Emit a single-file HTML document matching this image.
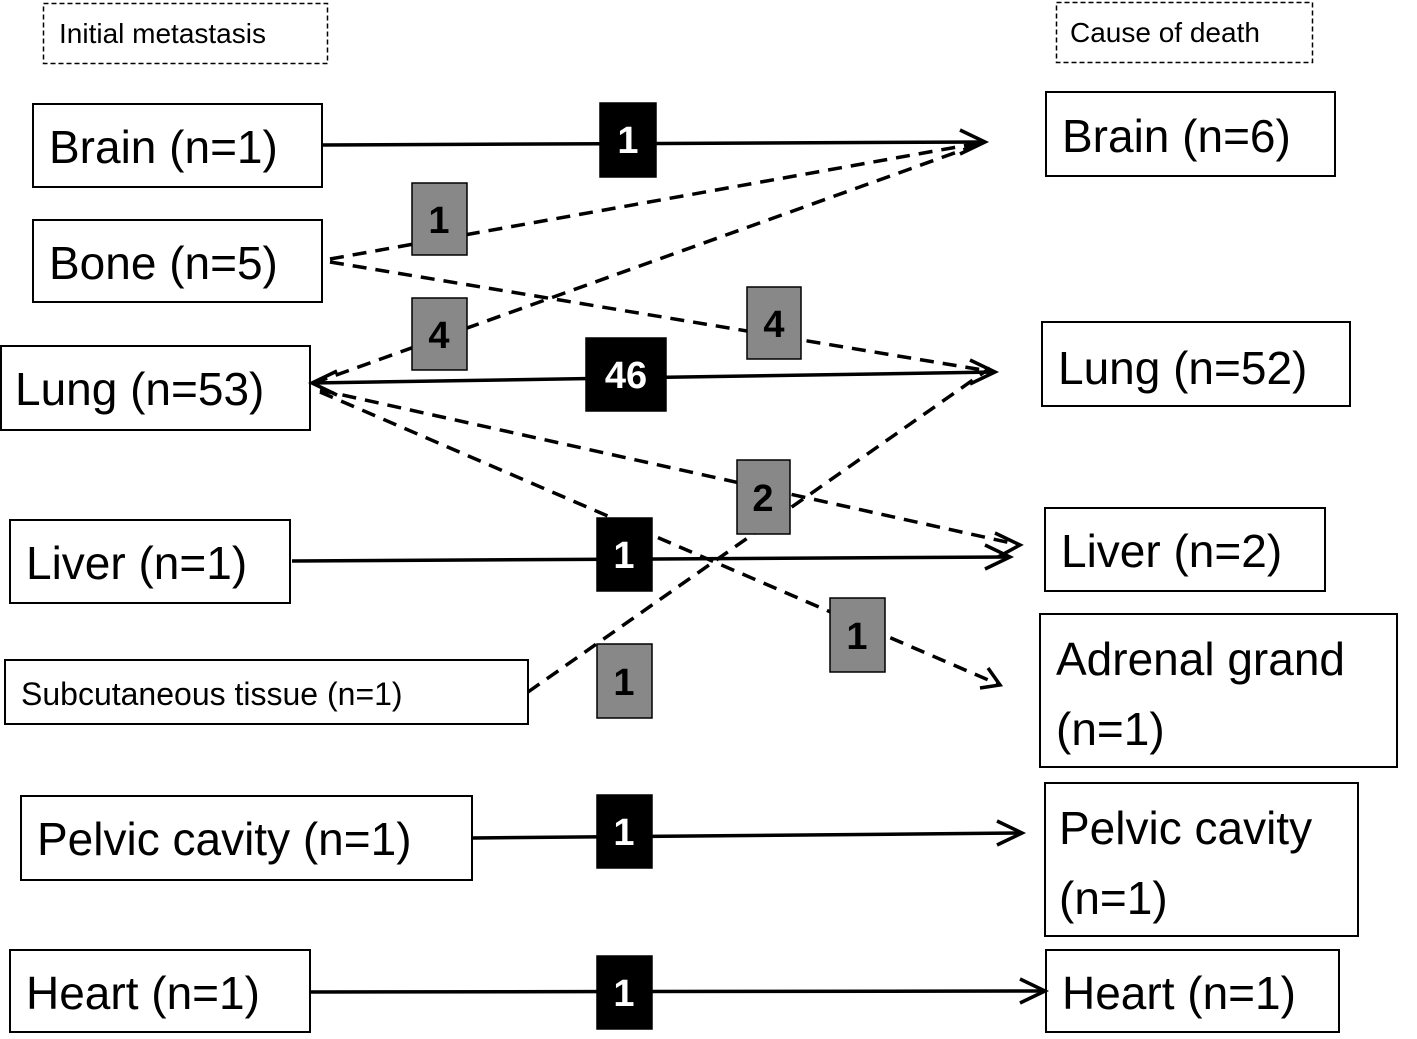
<!DOCTYPE html>
<html><head><meta charset="utf-8"><style>
body{margin:0;background:#fff;}
svg text{font-family:"Liberation Sans",sans-serif;}
</style></head><body>
<svg width="1417" height="1034" viewBox="0 0 1417 1034" xmlns="http://www.w3.org/2000/svg">
<defs>
<marker id="a" viewBox="0 0 20 20" refX="18" refY="10" markerWidth="7" markerHeight="7" orient="auto" markerUnits="userSpaceOnUse" style="overflow:visible">
</marker>
</defs>
<g fill="none" stroke="#000" stroke-width="2">
<rect x="43.5" y="3.5" width="284" height="60" stroke-dasharray="5,3" stroke-width="1.5"/>
<rect x="1056.5" y="2.5" width="256" height="60" stroke-dasharray="5,3" stroke-width="1.5"/>
<rect x="33" y="104" width="289" height="83"/>
<rect x="33" y="220" width="289" height="82"/>
<rect x="1" y="346" width="309" height="84"/>
<rect x="10" y="520" width="280" height="83"/>
<rect x="5" y="660" width="523" height="64"/>
<rect x="21" y="796" width="451" height="84"/>
<rect x="10" y="950" width="300" height="82"/>
<rect x="1046" y="92" width="289" height="84"/>
<rect x="1042" y="322" width="308" height="84"/>
<rect x="1045" y="508" width="280" height="83"/>
<rect x="1040" y="614" width="357" height="153"/>
<rect x="1045" y="783" width="313" height="153"/>
<rect x="1046" y="950" width="293" height="82"/>
</g>
<g fill="none" stroke="#000" stroke-width="3.5">
<line x1="322" y1="145" x2="985" y2="142"/>
<line x1="312" y1="383" x2="995" y2="372"/>
<line x1="292" y1="561" x2="1010" y2="557"/>
<line x1="472" y1="838" x2="1022" y2="833"/>
<line x1="310" y1="992" x2="1045" y2="991"/>
<g stroke-dasharray="14,9">
<line x1="330" y1="259" x2="985" y2="142"/>
<line x1="330" y1="262" x2="995" y2="372"/>
<line x1="314" y1="383" x2="985" y2="142"/>
<line x1="320" y1="390" x2="1020" y2="545"/>
<line x1="320" y1="392" x2="1000" y2="685"/>
<line x1="528" y1="692" x2="990" y2="368"/>
</g>
<!-- arrowheads -->
<polyline points="960,130 985,142 960,154"/>
<polyline points="970,360 995,372 970,384"/>
<polyline points="985,545 1010,557 985,569"/>
<polyline points="997,821 1022,833 997,845"/>
<polyline points="1020,979 1045,991 1020,1003"/>
<polyline points="337,371 312,383 337,395"/>
<polyline points="995,533 1020,545 998,557"/>
<polyline points="988,668 1000,685 980,688"/>
</g>
<g font-size="28" fill="#000">
<text x="59" y="43">Initial metastasis</text>
<text x="1070" y="42">Cause of death</text>
</g>
<g font-size="46" fill="#000">
<text x="49" y="163">Brain (n=1)</text>
<text x="49" y="279">Bone (n=5)</text>
<text x="15" y="405">Lung (n=53)</text>
<text x="26" y="579">Liver (n=1)</text>
<text x="37" y="855">Pelvic cavity (n=1)</text>
<text x="26" y="1009">Heart (n=1)</text>
<text x="1062" y="152">Brain (n=6)</text>
<text x="1058" y="384">Lung (n=52)</text>
<text x="1061" y="567">Liver (n=2)</text>
<text x="1056" y="675">Adrenal grand</text>
<text x="1056" y="745">(n=1)</text>
<text x="1059" y="844">Pelvic cavity</text>
<text x="1059" y="914">(n=1)</text>
<text x="1062" y="1009">Heart (n=1)</text>
</g>
<text x="21" y="705" font-size="32">Subcutaneous tissue (n=1)</text>
<g stroke="#000" stroke-width="1.5">
<rect x="600" y="103" width="56" height="74" fill="#000"/>
<rect x="586" y="338" width="80" height="73" fill="#000"/>
<rect x="597" y="518" width="55" height="73" fill="#000"/>
<rect x="597" y="795" width="55" height="73" fill="#000"/>
<rect x="597" y="956" width="55" height="73" fill="#000"/>
<rect x="412" y="183" width="55" height="72" fill="#888"/>
<rect x="412" y="298" width="55" height="72" fill="#888"/>
<rect x="747" y="287" width="54" height="72" fill="#888"/>
<rect x="737" y="460" width="53" height="74" fill="#888"/>
<rect x="830" y="598" width="55" height="74" fill="#888"/>
<rect x="597" y="644" width="55" height="74" fill="#888"/>
</g>
<g font-size="38" font-weight="bold" text-anchor="middle">
<text x="628" y="153" fill="#fff">1</text>
<text x="626" y="388" fill="#fff">46</text>
<text x="624" y="568" fill="#fff">1</text>
<text x="624" y="845" fill="#fff">1</text>
<text x="624" y="1006" fill="#fff">1</text>
<text x="439" y="233" fill="#000">1</text>
<text x="439" y="348" fill="#000">4</text>
<text x="774" y="337" fill="#000">4</text>
<text x="763" y="511" fill="#000">2</text>
<text x="857" y="649" fill="#000">1</text>
<text x="624" y="695" fill="#000">1</text>
</g>
</svg>
</body></html>
